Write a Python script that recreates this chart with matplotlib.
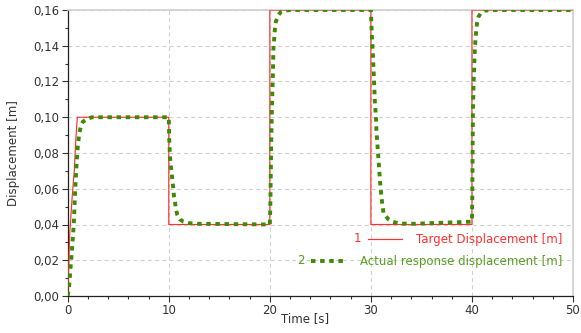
import numpy as np
import matplotlib
matplotlib.use('Agg')
import matplotlib.pyplot as plt
from matplotlib.ticker import MultipleLocator, FuncFormatter
from matplotlib.lines import Line2D

# target displacement (red)
t_target = [0, 0.12, 0.2, 0.45, 0.65, 0.8, 0.95, 10, 10, 20, 20, 30, 30, 40, 40, 50]
d_target = [0, 0.02, 0.035, 0.056, 0.07, 0.087, 0.1, 0.1, 0.04, 0.04, 0.16, 0.16, 0.04, 0.04, 0.16, 0.16]

# actual response displacement (green)
t_resp = [0, 0.15, 0.3, 0.45, 0.6, 0.7, 0.8, 0.9, 1.0, 1.15, 1.3, 1.5, 1.9, 2.4,
          10.0, 10.05, 10.12, 10.19, 10.29, 10.35, 10.45, 10.52, 10.62, 10.69, 10.85, 11.1, 11.45, 12.1, 12.9,
          20.0, 20.05, 20.1, 20.15, 20.2, 20.25, 20.3, 20.35, 20.5, 20.6, 20.85, 21.1, 21.5, 22.2,
          30.0, 30.1, 30.2, 30.3, 30.4, 30.5, 30.55, 30.65, 30.75, 30.85, 30.95, 31.1, 31.25, 31.7, 32.2, 32.9, 34.3,
          40.0, 40.03, 40.06, 40.1, 40.15, 40.23, 40.3, 40.4, 40.5, 40.65, 40.9, 41.2, 41.9, 50]
d_resp = [0, 0.006, 0.017, 0.028, 0.04, 0.054, 0.066, 0.076, 0.084, 0.091, 0.095, 0.0975, 0.099, 0.1,
          0.1, 0.0873, 0.0779, 0.0733, 0.0686, 0.0649, 0.0602, 0.0556, 0.0528, 0.0491, 0.0453, 0.0429, 0.0416, 0.0407, 0.0404,
          0.04, 0.05, 0.07, 0.09, 0.104, 0.1134, 0.1227, 0.1376, 0.1492, 0.1535, 0.1572, 0.159, 0.1597, 0.16,
          0.16, 0.145, 0.135, 0.122, 0.1078, 0.1003, 0.0925, 0.0845, 0.0766, 0.0686, 0.0608, 0.0528, 0.0463, 0.0431, 0.0414, 0.0405, 0.0404,
          0.0416, 0.0537, 0.0779, 0.104, 0.117, 0.130, 0.1395, 0.147, 0.1526, 0.1563, 0.1585, 0.1596, 0.16, 0.16]

red = '#ff3030'
green = '#3c8a06'

fig = plt.figure(figsize=(5.81, 3.33), dpi=100)
ax = fig.add_axes([67.7/581, 37/333, 505.3/581, 286/333])

ax.plot(t_target, d_target, color=red, lw=0.85, zorder=3)
ax.plot(t_resp, d_resp, color=green, lw=2.8, ls=(0, (1.15, 1.2)),
        dash_capstyle='butt', zorder=4)

ax.set_xlim(0, 50)
ax.set_ylim(0, 0.16)
ax.xaxis.set_major_locator(MultipleLocator(10))
ax.xaxis.set_minor_locator(MultipleLocator(2))
ax.yaxis.set_major_locator(MultipleLocator(0.02))
ax.yaxis.set_minor_locator(MultipleLocator(0.01))
ax.yaxis.set_major_formatter(FuncFormatter(lambda v, p: ('%.2f' % v).replace('.', ',')))
ax.xaxis.set_major_formatter(FuncFormatter(lambda v, p: '%d' % v))

ax.grid(True, which='major', color='#cfcfcf', ls=(0, (3.5, 3)), lw=0.8)
ax.tick_params(which='major', direction='out', length=4, width=0.8,
               labelsize=8.5, labelcolor='#333333', color='#333333', pad=2)
ax.tick_params(which='minor', direction='out', length=2.5, width=0.8, color='#333333')

for s in ['top', 'right']:
    ax.spines[s].set_color('#d0d0d0')
    ax.spines[s].set_linewidth(1.2)
for s in ['left', 'bottom']:
    ax.spines[s].set_color('#222222')
    ax.spines[s].set_linewidth(0.9)

ax.set_xlabel('Time [s]', fontsize=8.5, color='#333333')
ax.xaxis.set_label_coords((305 - 67.7)/505.3, -0.055)
ax.set_ylabel('Displacement [m]', fontsize=8.5, color='#333333')
ax.yaxis.set_label_coords(-0.095, 0.5)

# legend
def fx(x): return x / 581
def fy(y): return (333 - y) / 333

fig.text(fx(357), fy(239), '1', color=red, fontsize=8.5, ha='center', va='center')
fig.add_artist(Line2D([fx(368), fx(402)], [fy(239), fy(239)], color=red, lw=0.85,
                      transform=fig.transFigure))
fig.text(fx(562), fy(239), 'Target Displacement [m]', color=red, fontsize=8.5,
         ha='right', va='center')

fig.text(fx(301), fy(261), '2', color='#5a9e22', fontsize=8.5, ha='center', va='center')
fig.add_artist(Line2D([fx(311), fx(345)], [fy(261), fy(261)], color=green, lw=2.8,
                      ls=(0, (1.15, 1.2)), dash_capstyle='butt', transform=fig.transFigure))
fig.text(fx(562), fy(261), 'Actual response displacement [m]', color='#5a9e22', fontsize=8.5,
         ha='right', va='center')

fig.savefig('out.png', dpi=100)
